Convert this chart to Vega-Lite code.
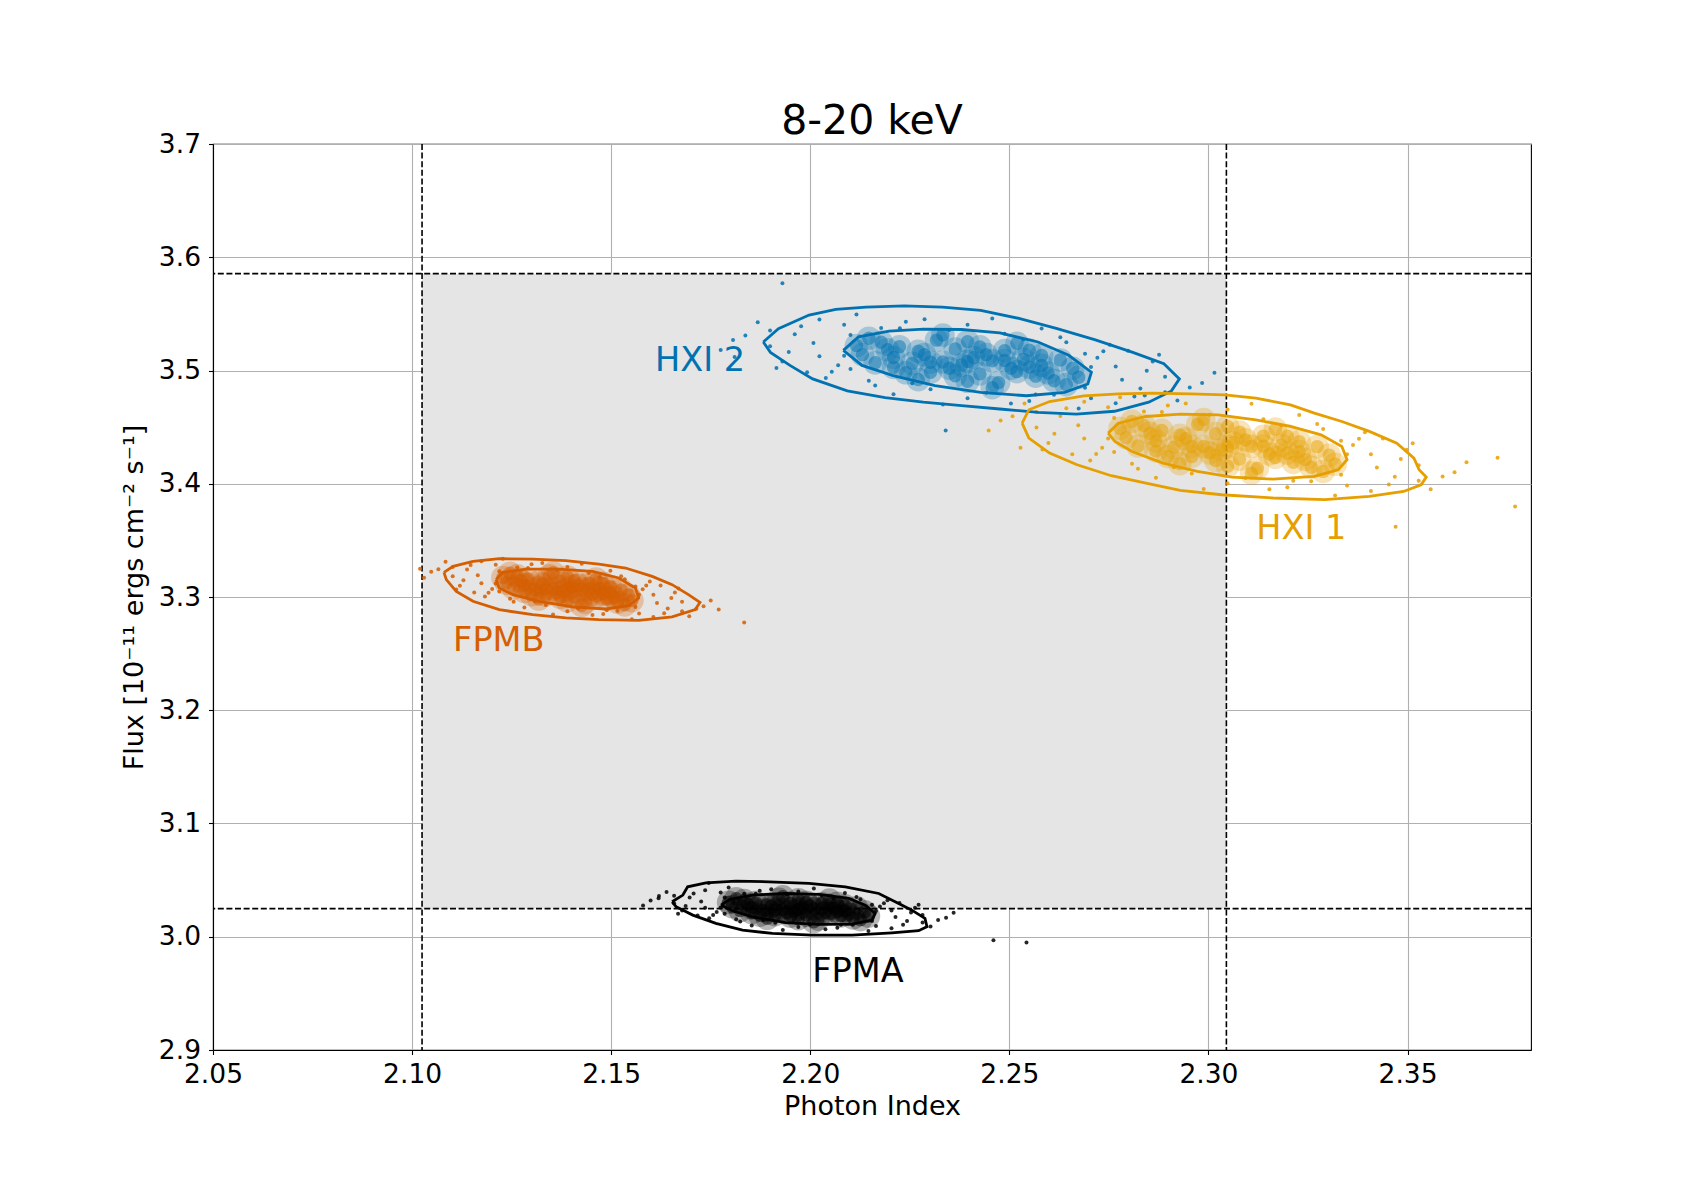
{
  "$schema": "https://vega.github.io/schema/vega-lite/v6.json",
  "description": "Photon index vs flux, 8-20 keV, four instruments with contours and a shaded range.",
  "autosize": "none",
  "padding": {"left": 213, "top": 144, "right": 169, "bottom": 150},
  "width": 1318,
  "height": 906,
  "title": {"text": "8-20 keV", "fontSize": 41, "fontWeight": "normal", "font": "DejaVu Sans", "baseline": "alphabetic", "offset": -44, "frame": "group", "color": "black"},
  "datasets": {
    "box": [{"x1": 2.1025, "x2": 2.3045, "y1": 3.0248, "y2": 3.5855}],
    "vlines": [{"x": 2.1025}, {"x": 2.3045}],
    "hlines": [{"y": 3.0248}, {"y": 3.5855}],
    "labels": [
      {"s": "H2", "label": "HXI 2", "x": 2.161, "y": 3.4995},
      {"s": "H1", "label": "HXI 1", "x": 2.312, "y": 3.351},
      {"s": "B", "label": "FPMB", "x": 2.1103, "y": 3.252},
      {"s": "A", "label": "FPMA", "x": 2.2005, "y": 2.9603}
    ],
    "core": [
      {"s":"H2","x":2.2395,"y":3.508},{"s":"H2","x":2.2457,"y":3.5085},{"s":"H2","x":2.2333,"y":3.5075},{"s":"H2","x":2.2519,"y":3.499},{"s":"H2","x":2.2271,"y":3.517},
      {"s":"H2","x":2.2426,"y":3.497},{"s":"H2","x":2.2364,"y":3.519},{"s":"H2","x":2.2581,"y":3.5045},{"s":"H2","x":2.2209,"y":3.5115},{"s":"H2","x":2.2488,"y":3.5175},
      {"s":"H2","x":2.2302,"y":3.4985},{"s":"H2","x":2.2612,"y":3.491},{"s":"H2","x":2.2178,"y":3.525},{"s":"H2","x":2.255,"y":3.518},{"s":"H2","x":2.224,"y":3.498},
      {"s":"H2","x":2.2659,"y":3.502},{"s":"H2","x":2.2131,"y":3.514},{"s":"H2","x":2.2395,"y":3.5255},{"s":"H2","x":2.2395,"y":3.4905},{"s":"H2","x":2.2473,"y":3.4893},
      {"s":"H2","x":2.2317,"y":3.5268},{"s":"H2","x":2.2566,"y":3.495},{"s":"H2","x":2.2224,"y":3.521},{"s":"H2","x":2.2442,"y":3.514},{"s":"H2","x":2.2349,"y":3.502},
      {"s":"H2","x":2.2535,"y":3.5098},{"s":"H2","x":2.2256,"y":3.5063},{"s":"H2","x":2.2628,"y":3.5093},{"s":"H2","x":2.2163,"y":3.5068},{"s":"H2","x":2.2504,"y":3.502},
      {"s":"H2","x":2.2287,"y":3.514},{"s":"H2","x":2.241,"y":3.5113},{"s":"H2","x":2.238,"y":3.5048},{"s":"H2","x":2.2597,"y":3.4978},{"s":"H2","x":2.2194,"y":3.5183},
      {"s":"H2","x":2.2674,"y":3.494},{"s":"H2","x":2.2116,"y":3.522},{"s":"H2","x":2.2457,"y":3.4848},{"s":"H2","x":2.2333,"y":3.5313},{"s":"H2","x":2.2519,"y":3.524},
      {"s":"H2","x":2.2271,"y":3.492},{"s":"H2","x":2.2488,"y":3.5088},{"s":"H2","x":2.2302,"y":3.5073},{"s":"H2","x":2.2426,"y":3.5208},{"s":"H2","x":2.2364,"y":3.4953},
      {"s":"H2","x":2.2581,"y":3.5133},{"s":"H2","x":2.2209,"y":3.5028},{"s":"H2","x":2.2643,"y":3.4875},{"s":"H2","x":2.2147,"y":3.5285},{"s":"H2","x":2.255,"y":3.503},

      {"s":"H1","x":2.3048,"y":3.433},{"s":"H1","x":2.3108,"y":3.4331},{"s":"H1","x":2.2988,"y":3.4329},{"s":"H1","x":2.3168,"y":3.4232},{"s":"H1","x":2.2928,"y":3.4428},
      {"s":"H1","x":2.3078,"y":3.4218},{"s":"H1","x":2.3018,"y":3.4442},{"s":"H1","x":2.3228,"y":3.4283},{"s":"H1","x":2.2868,"y":3.4377},{"s":"H1","x":2.3138,"y":3.4419},
      {"s":"H1","x":2.2958,"y":3.4241},{"s":"H1","x":2.3258,"y":3.4146},{"s":"H1","x":2.2838,"y":3.4514},{"s":"H1","x":2.3198,"y":3.442},{"s":"H1","x":2.2898,"y":3.424},
      {"s":"H1","x":2.3303,"y":3.4253},{"s":"H1","x":2.2793,"y":3.4407},{"s":"H1","x":2.3048,"y":3.4505},{"s":"H1","x":2.3048,"y":3.4155},{"s":"H1","x":2.3123,"y":3.4138},
      {"s":"H1","x":2.2973,"y":3.4523},{"s":"H1","x":2.3213,"y":3.4189},{"s":"H1","x":2.2883,"y":3.4471},{"s":"H1","x":2.3093,"y":3.4387},{"s":"H1","x":2.3003,"y":3.4273},
      {"s":"H1","x":2.3183,"y":3.4339},{"s":"H1","x":2.2913,"y":3.4322},{"s":"H1","x":2.3273,"y":3.4328},{"s":"H1","x":2.2823,"y":3.4333},{"s":"H1","x":2.3153,"y":3.4263},
      {"s":"H1","x":2.2943,"y":3.4397},{"s":"H1","x":2.3063,"y":3.4362},{"s":"H1","x":2.3033,"y":3.4299},{"s":"H1","x":2.3243,"y":3.4215},{"s":"H1","x":2.2853,"y":3.4446},
      {"s":"H1","x":2.3318,"y":3.4172},{"s":"H1","x":2.2778,"y":3.4488},{"s":"H1","x":2.3108,"y":3.4094},{"s":"H1","x":2.2988,"y":3.4567},{"s":"H1","x":2.3168,"y":3.4482},
      {"s":"H1","x":2.2928,"y":3.4178},{"s":"H1","x":2.3138,"y":3.4332},{"s":"H1","x":2.2958,"y":3.4329},{"s":"H1","x":2.3078,"y":3.4456},{"s":"H1","x":2.3018,"y":3.4205},
      {"s":"H1","x":2.3228,"y":3.4371},{"s":"H1","x":2.2868,"y":3.429},{"s":"H1","x":2.3288,"y":3.4109},{"s":"H1","x":2.2808,"y":3.4551},{"s":"H1","x":2.3198,"y":3.427},

      {"s":"B","x":2.139,"y":3.307},{"s":"B","x":2.1426,"y":3.3069},{"s":"B","x":2.1354,"y":3.3071},{"s":"B","x":2.1462,"y":3.3008},{"s":"B","x":2.1318,"y":3.3132},
      {"s":"B","x":2.1408,"y":3.3002},{"s":"B","x":2.1372,"y":3.3138},{"s":"B","x":2.1498,"y":3.3037},{"s":"B","x":2.1282,"y":3.3103},{"s":"B","x":2.1444,"y":3.3121},
      {"s":"B","x":2.1336,"y":3.3019},{"s":"B","x":2.1516,"y":3.2954},{"s":"B","x":2.1264,"y":3.3186},{"s":"B","x":2.148,"y":3.312},{"s":"B","x":2.13,"y":3.302},
      {"s":"B","x":2.1543,"y":3.3017},{"s":"B","x":2.1237,"y":3.3123},{"s":"B","x":2.139,"y":3.3175},{"s":"B","x":2.139,"y":3.2965},{"s":"B","x":2.1435,"y":3.2953},
      {"s":"B","x":2.1345,"y":3.3188},{"s":"B","x":2.1489,"y":3.2981},{"s":"B","x":2.1291,"y":3.3159},{"s":"B","x":2.1417,"y":3.3103},{"s":"B","x":2.1363,"y":3.3037},
      {"s":"B","x":2.1471,"y":3.3072},{"s":"B","x":2.1309,"y":3.3069},{"s":"B","x":2.1525,"y":3.3063},{"s":"B","x":2.1255,"y":3.3078},{"s":"B","x":2.1453,"y":3.3027},
      {"s":"B","x":2.1327,"y":3.3113},{"s":"B","x":2.1399,"y":3.3089},{"s":"B","x":2.1381,"y":3.3052},{"s":"B","x":2.1507,"y":3.2996},{"s":"B","x":2.1273,"y":3.3145},
      {"s":"B","x":2.1552,"y":3.2968},{"s":"B","x":2.1228,"y":3.3172},{"s":"B","x":2.1426,"y":3.2927},{"s":"B","x":2.1354,"y":3.3214},{"s":"B","x":2.1462,"y":3.3158},
      {"s":"B","x":2.1318,"y":3.2982},{"s":"B","x":2.1444,"y":3.3069},{"s":"B","x":2.1336,"y":3.3072},{"s":"B","x":2.1408,"y":3.3145},{"s":"B","x":2.1372,"y":3.2996},
      {"s":"B","x":2.1498,"y":3.309},{"s":"B","x":2.1282,"y":3.305},{"s":"B","x":2.1534,"y":3.2931},{"s":"B","x":2.1246,"y":3.3209},{"s":"B","x":2.148,"y":3.303},

      {"s":"A","x":2.197,"y":3.0243},{"s":"A","x":2.2009,"y":3.0247},{"s":"A","x":2.1931,"y":3.0239},{"s":"A","x":2.2048,"y":3.0203},{"s":"A","x":2.1892,"y":3.0283},
      {"s":"A","x":2.199,"y":3.0191},{"s":"A","x":2.195,"y":3.0295},{"s":"A","x":2.2087,"y":3.0231},{"s":"A","x":2.1853,"y":3.0255},{"s":"A","x":2.2029,"y":3.0291},
      {"s":"A","x":2.1912,"y":3.0195},{"s":"A","x":2.2107,"y":3.0167},{"s":"A","x":2.1834,"y":3.0319},{"s":"A","x":2.2068,"y":3.0295},{"s":"A","x":2.1873,"y":3.0191},
      {"s":"A","x":2.2136,"y":3.0221},{"s":"A","x":2.1804,"y":3.0265},{"s":"A","x":2.197,"y":3.0327},{"s":"A","x":2.197,"y":3.0159},{"s":"A","x":2.2019,"y":3.0155},
      {"s":"A","x":2.1921,"y":3.0331},{"s":"A","x":2.2077,"y":3.0185},{"s":"A","x":2.1863,"y":3.0301},{"s":"A","x":2.1999,"y":3.0273},{"s":"A","x":2.1941,"y":3.0213},
      {"s":"A","x":2.2058,"y":3.0255},{"s":"A","x":2.1882,"y":3.0231},{"s":"A","x":2.2116,"y":3.0255},{"s":"A","x":2.1824,"y":3.0231},{"s":"A","x":2.2038,"y":3.0217},
      {"s":"A","x":2.1902,"y":3.0269},{"s":"A","x":2.198,"y":3.0259},{"s":"A","x":2.196,"y":3.0227},{"s":"A","x":2.2097,"y":3.0199},{"s":"A","x":2.1843,"y":3.0287},
      {"s":"A","x":2.2146,"y":3.0183},{"s":"A","x":2.1795,"y":3.0303},{"s":"A","x":2.2009,"y":3.0133},{"s":"A","x":2.1931,"y":3.0353},{"s":"A","x":2.2048,"y":3.0323},
      {"s":"A","x":2.1892,"y":3.0163},{"s":"A","x":2.2029,"y":3.0249},{"s":"A","x":2.1912,"y":3.0237},{"s":"A","x":2.199,"y":3.0305},{"s":"A","x":2.195,"y":3.0181},
      {"s":"A","x":2.2087,"y":3.0273},{"s":"A","x":2.1853,"y":3.0213},{"s":"A","x":2.2126,"y":3.0151},{"s":"A","x":2.1814,"y":3.0335},{"s":"A","x":2.2068,"y":3.0223}
    ],
    "halo": [
      {"s":"H2","x":2.2767,"y":3.5035},{"s":"H2","x":2.2023,"y":3.5125},{"s":"H2","x":2.2829,"y":3.484},{"s":"H2","x":2.1961,"y":3.532},{"s":"H2","x":2.2488,"y":3.5325},
      {"s":"H2","x":2.2302,"y":3.4835},{"s":"H2","x":2.2643,"y":3.525},{"s":"H2","x":2.2147,"y":3.491},{"s":"H2","x":2.2705,"y":3.4755},{"s":"H2","x":2.2085,"y":3.5405},
      {"s":"H2","x":2.2891,"y":3.4945},{"s":"H2","x":2.1899,"y":3.5215},{"s":"H2","x":2.2395,"y":3.5405},{"s":"H2","x":2.2395,"y":3.4755},{"s":"H2","x":2.2736,"y":3.517},
      {"s":"H2","x":2.2054,"y":3.499},{"s":"H2","x":2.255,"y":3.473},{"s":"H2","x":2.224,"y":3.543},{"s":"H2","x":2.2953,"y":3.485},{"s":"H2","x":2.1837,"y":3.531},
      {"s":"H2","x":2.2798,"y":3.5175},{"s":"H2","x":2.1992,"y":3.4985},{"s":"H2","x":2.2674,"y":3.4665},{"s":"H2","x":2.2116,"y":3.5495},{"s":"H2","x":2.286,"y":3.508},
      {"s":"H2","x":2.193,"y":3.508},{"s":"H2","x":2.2581,"y":3.537},{"s":"H2","x":2.2209,"y":3.479},{"s":"H2","x":2.2767,"y":3.471},{"s":"H2","x":2.2023,"y":3.545},
      {"s":"H2","x":2.3015,"y":3.498},{"s":"H2","x":2.1775,"y":3.518},{"s":"H2","x":2.2457,"y":3.546},{"s":"H2","x":2.2333,"y":3.47},{"s":"H2","x":2.2922,"y":3.4735},
      {"s":"H2","x":2.1868,"y":3.5425},{"s":"H2","x":2.2705,"y":3.503},{"s":"H2","x":2.2085,"y":3.513},{"s":"H2","x":2.2612,"y":3.4785},{"s":"H2","x":2.2178,"y":3.5375},
      {"s":"H2","x":2.193,"y":3.577},{"s":"H2","x":2.234,"y":3.447},{"s":"H2","x":2.181,"y":3.512},{"s":"H2","x":2.284,"y":3.478},
      {"s":"H2","x":2.2721,"y":3.5113},{"s":"H2","x":2.207,"y":3.5047},{"s":"H2","x":2.2783,"y":3.4918},{"s":"H2","x":2.2008,"y":3.5243},{"s":"H2","x":2.2535,"y":3.5273},
      {"s":"H2","x":2.2256,"y":3.4888},{"s":"H2","x":2.269,"y":3.4848},{"s":"H2","x":2.2101,"y":3.5313},{"s":"H2","x":2.2845,"y":3.4998},{"s":"H2","x":2.1946,"y":3.5163},
      {"s":"H2","x":2.2442,"y":3.4803},{"s":"H2","x":2.2349,"y":3.5358},{"s":"H2","x":2.2628,"y":3.5293},{"s":"H2","x":2.2163,"y":3.4868},{"s":"H2","x":2.2814,"y":3.477},
      {"s":"H2","x":2.1977,"y":3.539},{"s":"H2","x":2.2891,"y":3.4808},{"s":"H2","x":2.1899,"y":3.5353},{"s":"H2","x":2.2504,"y":3.4708},{"s":"H2","x":2.2287,"y":3.5453},
      {"s":"H2","x":2.2752,"y":3.5228},{"s":"H2","x":2.2039,"y":3.4933},{"s":"H2","x":2.2984,"y":3.489},{"s":"H2","x":2.1806,"y":3.527},{"s":"H2","x":2.2566,"y":3.4788},
      {"s":"H2","x":2.2225,"y":3.5373},{"s":"H2","x":2.2876,"y":3.5138},{"s":"H2","x":2.1915,"y":3.5023},{"s":"H2","x":2.269,"y":3.5148},{"s":"H2","x":2.2101,"y":3.5013},

      {"s":"H1","x":2.3408,"y":3.4261},{"s":"H1","x":2.2688,"y":3.4399},{"s":"H1","x":2.3468,"y":3.4062},{"s":"H1","x":2.2628,"y":3.4598},{"s":"H1","x":2.3138,"y":3.4569},
      {"s":"H1","x":2.2958,"y":3.4091},{"s":"H1","x":2.3288,"y":3.4484},{"s":"H1","x":2.2808,"y":3.4176},{"s":"H1","x":2.3348,"y":3.3985},{"s":"H1","x":2.2748,"y":3.4675},
      {"s":"H1","x":2.3528,"y":3.4163},{"s":"H1","x":2.2568,"y":3.4497},{"s":"H1","x":2.3048,"y":3.4655},{"s":"H1","x":2.3048,"y":3.4005},{"s":"H1","x":2.3378,"y":3.4398},
      {"s":"H1","x":2.2718,"y":3.4262},{"s":"H1","x":2.3198,"y":3.397},{"s":"H1","x":2.2898,"y":3.469},{"s":"H1","x":2.3588,"y":3.4064},{"s":"H1","x":2.2508,"y":3.4596},
      {"s":"H1","x":2.3438,"y":3.4399},{"s":"H1","x":2.2658,"y":3.4261},{"s":"H1","x":2.3318,"y":3.3897},{"s":"H1","x":2.2778,"y":3.4763},{"s":"H1","x":2.3498,"y":3.43},
      {"s":"H1","x":2.2598,"y":3.436},{"s":"H1","x":2.3228,"y":3.4608},{"s":"H1","x":2.2868,"y":3.4052},{"s":"H1","x":2.3408,"y":3.3936},{"s":"H1","x":2.2688,"y":3.4724},
      {"s":"H1","x":2.3648,"y":3.419},{"s":"H1","x":2.2448,"y":3.447},{"s":"H1","x":2.3108,"y":3.4706},{"s":"H1","x":2.2988,"y":3.3954},{"s":"H1","x":2.3558,"y":3.3951},
      {"s":"H1","x":2.2538,"y":3.4709},{"s":"H1","x":2.3348,"y":3.426},{"s":"H1","x":2.2748,"y":3.44},{"s":"H1","x":2.3258,"y":3.4021},{"s":"H1","x":2.2838,"y":3.4639},
      {"s":"H1","x":2.377,"y":3.38},{"s":"H1","x":2.3726,"y":3.423},{"s":"H1","x":2.347,"y":3.362},{"s":"H1","x":2.2528,"y":3.4317},
      {"s":"H1","x":2.3363,"y":3.4342},{"s":"H1","x":2.2733,"y":3.4318},{"s":"H1","x":2.3423,"y":3.4143},{"s":"H1","x":2.2673,"y":3.4517},{"s":"H1","x":2.3183,"y":3.4514},
      {"s":"H1","x":2.2913,"y":3.4146},{"s":"H1","x":2.3333,"y":3.4079},{"s":"H1","x":2.2763,"y":3.4581},{"s":"H1","x":2.3483,"y":3.4219},{"s":"H1","x":2.2613,"y":3.4441},
      {"s":"H1","x":2.3093,"y":3.405},{"s":"H1","x":2.3003,"y":3.461},{"s":"H1","x":2.3273,"y":3.4528},{"s":"H1","x":2.2823,"y":3.4132},{"s":"H1","x":2.3453,"y":3.3993},
      {"s":"H1","x":2.2643,"y":3.4667},{"s":"H1","x":2.3528,"y":3.4026},{"s":"H1","x":2.2568,"y":3.4634},{"s":"H1","x":2.3153,"y":3.3951},{"s":"H1","x":2.2943,"y":3.4709},
      {"s":"H1","x":2.3393,"y":3.4455},{"s":"H1","x":2.2703,"y":3.4205},{"s":"H1","x":2.3618,"y":3.4102},{"s":"H1","x":2.2478,"y":3.4558},{"s":"H1","x":2.3213,"y":3.4027},
      {"s":"H1","x":2.2883,"y":3.4633},{"s":"H1","x":2.3513,"y":3.4357},{"s":"H1","x":2.2583,"y":3.4303},{"s":"H1","x":2.3333,"y":3.4379},{"s":"H1","x":2.2763,"y":3.4281},

      {"s":"B","x":2.1606,"y":3.3019},{"s":"B","x":2.1174,"y":3.3121},{"s":"B","x":2.1642,"y":3.2898},{"s":"B","x":2.1138,"y":3.3242},{"s":"B","x":2.1444,"y":3.3211},
      {"s":"B","x":2.1336,"y":3.2929},{"s":"B","x":2.1534,"y":3.3156},{"s":"B","x":2.1246,"y":3.2984},{"s":"B","x":2.157,"y":3.2855},{"s":"B","x":2.121,"y":3.3285},
      {"s":"B","x":2.1678,"y":3.2957},{"s":"B","x":2.1102,"y":3.3183},{"s":"B","x":2.139,"y":3.3265},{"s":"B","x":2.139,"y":3.2875},{"s":"B","x":2.1588,"y":3.3102},
      {"s":"B","x":2.1192,"y":3.3038},{"s":"B","x":2.148,"y":3.285},{"s":"B","x":2.13,"y":3.329},{"s":"B","x":2.1714,"y":3.2896},{"s":"B","x":2.1066,"y":3.3244},
      {"s":"B","x":2.1624,"y":3.3101},{"s":"B","x":2.1156,"y":3.3039},{"s":"B","x":2.1552,"y":3.2803},{"s":"B","x":2.1228,"y":3.3337},{"s":"B","x":2.166,"y":3.304},
      {"s":"B","x":2.112,"y":3.31},{"s":"B","x":2.1498,"y":3.3232},{"s":"B","x":2.1282,"y":3.2908},{"s":"B","x":2.1606,"y":3.2824},{"s":"B","x":2.1174,"y":3.3316},
      {"s":"B","x":2.175,"y":3.297},{"s":"B","x":2.103,"y":3.317},{"s":"B","x":2.1426,"y":3.3294},{"s":"B","x":2.1354,"y":3.2846},{"s":"B","x":2.1696,"y":3.2829},
      {"s":"B","x":2.1084,"y":3.3311},{"s":"B","x":2.157,"y":3.302},{"s":"B","x":2.121,"y":3.312},{"s":"B","x":2.1516,"y":3.2879},{"s":"B","x":2.1264,"y":3.3261},
      {"s":"B","x":2.1834,"y":3.2775},{"s":"B","x":2.102,"y":3.325},{"s":"B","x":2.177,"y":3.289},
      {"s":"B","x":2.1579,"y":3.3069},{"s":"B","x":2.1201,"y":3.3071},{"s":"B","x":2.1615,"y":3.2948},{"s":"B","x":2.1165,"y":3.3192},{"s":"B","x":2.1471,"y":3.3177},
      {"s":"B","x":2.1309,"y":3.2963},{"s":"B","x":2.1561,"y":3.2912},{"s":"B","x":2.1219,"y":3.3228},{"s":"B","x":2.1651,"y":3.2992},{"s":"B","x":2.1129,"y":3.3148},
      {"s":"B","x":2.1417,"y":3.2901},{"s":"B","x":2.1363,"y":3.3239},{"s":"B","x":2.1525,"y":3.3183},{"s":"B","x":2.1255,"y":3.2957},{"s":"B","x":2.1633,"y":3.2857},
      {"s":"B","x":2.1147,"y":3.3283},{"s":"B","x":2.1678,"y":3.2875},{"s":"B","x":2.1102,"y":3.3265},{"s":"B","x":2.1453,"y":3.284},{"s":"B","x":2.1327,"y":3.33},
      {"s":"B","x":2.1597,"y":3.3136},{"s":"B","x":2.1183,"y":3.3004},{"s":"B","x":2.1732,"y":3.2918},{"s":"B","x":2.1048,"y":3.3222},{"s":"B","x":2.1489,"y":3.2884},
      {"s":"B","x":2.1291,"y":3.3256},{"s":"B","x":2.1669,"y":3.3074},{"s":"B","x":2.1111,"y":3.3066},{"s":"B","x":2.1561,"y":3.3092},{"s":"B","x":2.1219,"y":3.3048},

      {"s":"A","x":2.2204,"y":3.0231},{"s":"A","x":2.1736,"y":3.0255},{"s":"A","x":2.2243,"y":3.0139},{"s":"A","x":2.1697,"y":3.0347},{"s":"A","x":2.2029,"y":3.0363},
      {"s":"A","x":2.1912,"y":3.0123},{"s":"A","x":2.2126,"y":3.0331},{"s":"A","x":2.1814,"y":3.0155},{"s":"A","x":2.2165,"y":3.0095},{"s":"A","x":2.1775,"y":3.0391},
      {"s":"A","x":2.2282,"y":3.0191},{"s":"A","x":2.1658,"y":3.0295},{"s":"A","x":2.197,"y":3.0399},{"s":"A","x":2.197,"y":3.0087},{"s":"A","x":2.2185,"y":3.0295},
      {"s":"A","x":2.1756,"y":3.0191},{"s":"A","x":2.2068,"y":3.0079},{"s":"A","x":2.1873,"y":3.0407},{"s":"A","x":2.2321,"y":3.0147},{"s":"A","x":2.1619,"y":3.0339},
      {"s":"A","x":2.2224,"y":3.0299},{"s":"A","x":2.1717,"y":3.0187},{"s":"A","x":2.2146,"y":3.0051},{"s":"A","x":2.1795,"y":3.0435},{"s":"A","x":2.2263,"y":3.0255},
      {"s":"A","x":2.1678,"y":3.0231},{"s":"A","x":2.2087,"y":3.0387},{"s":"A","x":2.1853,"y":3.0099},{"s":"A","x":2.2204,"y":3.0075},{"s":"A","x":2.1736,"y":3.0411},
      {"s":"A","x":2.236,"y":3.0211},{"s":"A","x":2.158,"y":3.0275},{"s":"A","x":2.2009,"y":3.0427},{"s":"A","x":2.1931,"y":3.0059},{"s":"A","x":2.2302,"y":3.0091},
      {"s":"A","x":2.1639,"y":3.0395},{"s":"A","x":2.2165,"y":3.0227},{"s":"A","x":2.1775,"y":3.0259},{"s":"A","x":2.2107,"y":3.0107},{"s":"A","x":2.1834,"y":3.0379},
      {"s":"A","x":2.2543,"y":2.995},{"s":"A","x":2.246,"y":2.997},{"s":"A","x":2.162,"y":3.036},{"s":"A","x":2.1745,"y":3.0475},
      {"s":"A","x":2.2175,"y":3.0267},{"s":"A","x":2.1765,"y":3.0219},{"s":"A","x":2.2214,"y":3.0175},{"s":"A","x":2.1726,"y":3.0311},{"s":"A","x":2.2058,"y":3.0339},
      {"s":"A","x":2.1882,"y":3.0147},{"s":"A","x":2.2155,"y":3.0139},{"s":"A","x":2.1785,"y":3.0347},{"s":"A","x":2.2253,"y":3.0215},{"s":"A","x":2.1687,"y":3.0271},
      {"s":"A","x":2.1999,"y":3.0111},{"s":"A","x":2.1941,"y":3.0375},{"s":"A","x":2.2116,"y":3.0351},{"s":"A","x":2.1824,"y":3.0135},{"s":"A","x":2.2233,"y":3.0105},
      {"s":"A","x":2.1707,"y":3.0381},{"s":"A","x":2.2282,"y":3.0125},{"s":"A","x":2.1658,"y":3.0361},{"s":"A","x":2.2038,"y":3.0067},{"s":"A","x":2.1902,"y":3.0419},
      {"s":"A","x":2.2194,"y":3.0323},{"s":"A","x":2.1746,"y":3.0163},{"s":"A","x":2.2341,"y":3.0167},{"s":"A","x":2.1599,"y":3.0319},{"s":"A","x":2.2077,"y":3.0107},
      {"s":"A","x":2.1863,"y":3.0379},{"s":"A","x":2.2272,"y":3.0283},{"s":"A","x":2.1668,"y":3.0203},{"s":"A","x":2.2155,"y":3.0283},{"s":"A","x":2.1785,"y":3.0203}
    ],
    "contours": [
      {"s":"H2","l":"o","i":0,"x":2.1882,"y":3.5252},{"s":"H2","l":"o","i":1,"x":2.192,"y":3.537},{"s":"H2","l":"o","i":2,"x":2.1997,"y":3.549},{"s":"H2","l":"o","i":3,"x":2.2064,"y":3.554},
      {"s":"H2","l":"o","i":4,"x":2.214,"y":3.556},{"s":"H2","l":"o","i":5,"x":2.2236,"y":3.557},{"s":"H2","l":"o","i":6,"x":2.2332,"y":3.556},{"s":"H2","l":"o","i":7,"x":2.2428,"y":3.553},
      {"s":"H2","l":"o","i":8,"x":2.2524,"y":3.546},{"s":"H2","l":"o","i":9,"x":2.262,"y":3.537},{"s":"H2","l":"o","i":10,"x":2.2716,"y":3.527},{"s":"H2","l":"o","i":11,"x":2.281,"y":3.516},
      {"s":"H2","l":"o","i":12,"x":2.2888,"y":3.506},{"s":"H2","l":"o","i":13,"x":2.2927,"y":3.4926},{"s":"H2","l":"o","i":14,"x":2.2907,"y":3.482},{"s":"H2","l":"o","i":15,"x":2.285,"y":3.472},
      {"s":"H2","l":"o","i":16,"x":2.2764,"y":3.464},{"s":"H2","l":"o","i":17,"x":2.2668,"y":3.4614},{"s":"H2","l":"o","i":18,"x":2.2572,"y":3.463},{"s":"H2","l":"o","i":19,"x":2.2476,"y":3.466},
      {"s":"H2","l":"o","i":20,"x":2.238,"y":3.469},{"s":"H2","l":"o","i":21,"x":2.2284,"y":3.472},{"s":"H2","l":"o","i":22,"x":2.2188,"y":3.476},{"s":"H2","l":"o","i":23,"x":2.2093,"y":3.482},
      {"s":"H2","l":"o","i":24,"x":2.2006,"y":3.4926},{"s":"H2","l":"o","i":25,"x":2.1949,"y":3.5045},{"s":"H2","l":"o","i":26,"x":2.19,"y":3.516},{"s":"H2","l":"o","i":27,"x":2.1882,"y":3.5252},

      {"s":"H2","l":"i","i":0,"x":2.2083,"y":3.5178},{"s":"H2","l":"i","i":1,"x":2.2121,"y":3.5297},{"s":"H2","l":"i","i":2,"x":2.2198,"y":3.5347},{"s":"H2","l":"i","i":3,"x":2.2284,"y":3.5365},
      {"s":"H2","l":"i","i":4,"x":2.238,"y":3.5362},{"s":"H2","l":"i","i":5,"x":2.2476,"y":3.5332},{"s":"H2","l":"i","i":6,"x":2.2572,"y":3.5252},{"s":"H2","l":"i","i":7,"x":2.2649,"y":3.5134},
      {"s":"H2","l":"i","i":8,"x":2.2706,"y":3.4985},{"s":"H2","l":"i","i":9,"x":2.2697,"y":3.4881},{"s":"H2","l":"i","i":10,"x":2.2639,"y":3.4807},{"s":"H2","l":"i","i":11,"x":2.2543,"y":3.4777},
      {"s":"H2","l":"i","i":12,"x":2.2428,"y":3.4807},{"s":"H2","l":"i","i":13,"x":2.2313,"y":3.4866},{"s":"H2","l":"i","i":14,"x":2.2208,"y":3.4955},{"s":"H2","l":"i","i":15,"x":2.213,"y":3.5045},
      {"s":"H2","l":"i","i":16,"x":2.2083,"y":3.5178},

      {"s":"H1","l":"o","i":0,"x":2.2532,"y":3.4535},{"s":"H1","l":"o","i":1,"x":2.2549,"y":3.4653},{"s":"H1","l":"o","i":2,"x":2.2601,"y":3.4726},{"s":"H1","l":"o","i":3,"x":2.2687,"y":3.4776},
      {"s":"H1","l":"o","i":4,"x":2.2774,"y":3.4794},{"s":"H1","l":"o","i":5,"x":2.286,"y":3.48},{"s":"H1","l":"o","i":6,"x":2.2955,"y":3.4794},{"s":"H1","l":"o","i":7,"x":2.3041,"y":3.4785},
      {"s":"H1","l":"o","i":8,"x":2.3119,"y":3.4756},{"s":"H1","l":"o","i":9,"x":2.3206,"y":3.4697},{"s":"H1","l":"o","i":10,"x":2.3266,"y":3.4624},{"s":"H1","l":"o","i":11,"x":2.3335,"y":3.455},
      {"s":"H1","l":"o","i":12,"x":2.3404,"y":3.4462},{"s":"H1","l":"o","i":13,"x":2.3473,"y":3.4359},{"s":"H1","l":"o","i":14,"x":2.3516,"y":3.4226},{"s":"H1","l":"o","i":15,"x":2.3529,"y":3.4124},
      {"s":"H1","l":"o","i":16,"x":2.3547,"y":3.4059},{"s":"H1","l":"o","i":17,"x":2.3534,"y":3.3991},{"s":"H1","l":"o","i":18,"x":2.349,"y":3.3932},{"s":"H1","l":"o","i":19,"x":2.3404,"y":3.3888},
      {"s":"H1","l":"o","i":20,"x":2.3292,"y":3.3859},{"s":"H1","l":"o","i":21,"x":2.3162,"y":3.3874},{"s":"H1","l":"o","i":22,"x":2.3033,"y":3.3903},{"s":"H1","l":"o","i":23,"x":2.2929,"y":3.3941},
      {"s":"H1","l":"o","i":24,"x":2.2843,"y":3.4006},{"s":"H1","l":"o","i":25,"x":2.2756,"y":3.4071},{"s":"H1","l":"o","i":26,"x":2.267,"y":3.4168},{"s":"H1","l":"o","i":27,"x":2.2601,"y":3.4271},
      {"s":"H1","l":"o","i":28,"x":2.2549,"y":3.4403},{"s":"H1","l":"o","i":29,"x":2.2532,"y":3.4535},

      {"s":"H1","l":"i","i":0,"x":2.2748,"y":3.4447},{"s":"H1","l":"i","i":1,"x":2.2774,"y":3.4535},{"s":"H1","l":"i","i":2,"x":2.2843,"y":3.4594},{"s":"H1","l":"i","i":3,"x":2.2929,"y":3.4615},
      {"s":"H1","l":"i","i":4,"x":2.3024,"y":3.4609},{"s":"H1","l":"i","i":5,"x":2.3119,"y":3.4565},{"s":"H1","l":"i","i":6,"x":2.3206,"y":3.4506},{"s":"H1","l":"i","i":7,"x":2.3283,"y":3.4432},
      {"s":"H1","l":"i","i":8,"x":2.3335,"y":3.4329},{"s":"H1","l":"i","i":9,"x":2.3348,"y":3.4212},{"s":"H1","l":"i","i":10,"x":2.3326,"y":3.4124},{"s":"H1","l":"i","i":11,"x":2.3266,"y":3.4065},
      {"s":"H1","l":"i","i":12,"x":2.3162,"y":3.4041},{"s":"H1","l":"i","i":13,"x":2.3059,"y":3.4059},{"s":"H1","l":"i","i":14,"x":2.2972,"y":3.4109},{"s":"H1","l":"i","i":15,"x":2.2886,"y":3.4182},
      {"s":"H1","l":"i","i":16,"x":2.2808,"y":3.4285},{"s":"H1","l":"i","i":17,"x":2.2765,"y":3.4374},{"s":"H1","l":"i","i":18,"x":2.2748,"y":3.4447},

      {"s":"B","l":"o","i":0,"x":2.108,"y":3.3218},{"s":"B","l":"o","i":1,"x":2.1103,"y":3.3271},{"s":"B","l":"o","i":2,"x":2.1153,"y":3.3315},{"s":"B","l":"o","i":3,"x":2.1219,"y":3.3338},
      {"s":"B","l":"o","i":4,"x":2.1303,"y":3.3335},{"s":"B","l":"o","i":5,"x":2.1386,"y":3.3321},{"s":"B","l":"o","i":6,"x":2.1469,"y":3.3291},{"s":"B","l":"o","i":7,"x":2.1536,"y":3.3256},
      {"s":"B","l":"o","i":8,"x":2.1603,"y":3.3182},{"s":"B","l":"o","i":9,"x":2.1653,"y":3.3109},{"s":"B","l":"o","i":10,"x":2.1694,"y":3.3021},{"s":"B","l":"o","i":11,"x":2.1723,"y":3.2953},
      {"s":"B","l":"o","i":12,"x":2.1711,"y":3.2888},{"s":"B","l":"o","i":13,"x":2.1653,"y":3.2824},{"s":"B","l":"o","i":14,"x":2.1569,"y":3.2794},{"s":"B","l":"o","i":15,"x":2.1469,"y":3.28},
      {"s":"B","l":"o","i":16,"x":2.1386,"y":3.2815},{"s":"B","l":"o","i":17,"x":2.1303,"y":3.2844},{"s":"B","l":"o","i":18,"x":2.1219,"y":3.2888},{"s":"B","l":"o","i":19,"x":2.1153,"y":3.2962},
      {"s":"B","l":"o","i":20,"x":2.1111,"y":3.305},{"s":"B","l":"o","i":21,"x":2.1086,"y":3.3153},{"s":"B","l":"o","i":22,"x":2.108,"y":3.3218},

      {"s":"B","l":"i","i":0,"x":2.1211,"y":3.3153},{"s":"B","l":"i","i":1,"x":2.1228,"y":3.3218},{"s":"B","l":"i","i":2,"x":2.1286,"y":3.3247},{"s":"B","l":"i","i":3,"x":2.1369,"y":3.3247},
      {"s":"B","l":"i","i":4,"x":2.1453,"y":3.3226},{"s":"B","l":"i","i":5,"x":2.1519,"y":3.3168},{"s":"B","l":"i","i":6,"x":2.1561,"y":3.3079},{"s":"B","l":"i","i":7,"x":2.1569,"y":3.2991},
      {"s":"B","l":"i","i":8,"x":2.1544,"y":3.2924},{"s":"B","l":"i","i":9,"x":2.1486,"y":3.2894},{"s":"B","l":"i","i":10,"x":2.1403,"y":3.2912},{"s":"B","l":"i","i":11,"x":2.1319,"y":3.2962},
      {"s":"B","l":"i","i":12,"x":2.1253,"y":3.3021},{"s":"B","l":"i","i":13,"x":2.1219,"y":3.3079},{"s":"B","l":"i","i":14,"x":2.1211,"y":3.3153},

      {"s":"A","l":"o","i":0,"x":2.1653,"y":3.0309},{"s":"A","l":"o","i":1,"x":2.168,"y":3.0368},{"s":"A","l":"o","i":2,"x":2.1692,"y":3.0441},{"s":"A","l":"o","i":3,"x":2.1738,"y":3.0476},
      {"s":"A","l":"o","i":4,"x":2.1813,"y":3.0491},{"s":"A","l":"o","i":5,"x":2.1897,"y":3.0485},{"s":"A","l":"o","i":6,"x":2.1997,"y":3.0471},{"s":"A","l":"o","i":7,"x":2.2088,"y":3.0441},
      {"s":"A","l":"o","i":8,"x":2.2172,"y":3.0382},{"s":"A","l":"o","i":9,"x":2.2222,"y":3.0294},{"s":"A","l":"o","i":10,"x":2.2255,"y":3.0235},{"s":"A","l":"o","i":11,"x":2.2288,"y":3.0162},
      {"s":"A","l":"o","i":12,"x":2.2293,"y":3.0088},{"s":"A","l":"o","i":13,"x":2.2272,"y":3.0053},{"s":"A","l":"o","i":14,"x":2.2205,"y":3.0035},{"s":"A","l":"o","i":15,"x":2.2105,"y":3.0015},
      {"s":"A","l":"o","i":16,"x":2.2005,"y":3.0015},{"s":"A","l":"o","i":17,"x":2.1905,"y":3.0029},{"s":"A","l":"o","i":18,"x":2.183,"y":3.0059},{"s":"A","l":"o","i":19,"x":2.1763,"y":3.0118},
      {"s":"A","l":"o","i":20,"x":2.1705,"y":3.0191},{"s":"A","l":"o","i":21,"x":2.1663,"y":3.0265},{"s":"A","l":"o","i":22,"x":2.1653,"y":3.0309},

      {"s":"A","l":"i","i":0,"x":2.1776,"y":3.0279},{"s":"A","l":"i","i":1,"x":2.1797,"y":3.0329},{"s":"A","l":"i","i":2,"x":2.1855,"y":3.0368},{"s":"A","l":"i","i":3,"x":2.1938,"y":3.0382},
      {"s":"A","l":"i","i":4,"x":2.2022,"y":3.0374},{"s":"A","l":"i","i":5,"x":2.2097,"y":3.0338},{"s":"A","l":"i","i":6,"x":2.2138,"y":3.0279},{"s":"A","l":"i","i":7,"x":2.2163,"y":3.0206},
      {"s":"A","l":"i","i":8,"x":2.2155,"y":3.0147},{"s":"A","l":"i","i":9,"x":2.2105,"y":3.0112},{"s":"A","l":"i","i":10,"x":2.2022,"y":3.0109},{"s":"A","l":"i","i":11,"x":2.1938,"y":3.0124},
      {"s":"A","l":"i","i":12,"x":2.1855,"y":3.0176},{"s":"A","l":"i","i":13,"x":2.1805,"y":3.0229},{"s":"A","l":"i","i":14,"x":2.1776,"y":3.0279}
    ]
  },
  "encoding": {
    "x": {
      "field": "x", "type": "quantitative",
      "scale": {"domain": [2.05, 2.381], "nice": false, "zero": false},
      "axis": {
        "title": "Photon Index", "values": [2.05, 2.1, 2.15, 2.2, 2.25, 2.3, 2.35], "format": ".2f",
        "labelFlush": false, "labelOverlap": false, "labelPadding": 7, "titlePadding": 5
      }
    },
    "y": {
      "field": "y", "type": "quantitative",
      "scale": {"domain": [2.9, 3.7], "nice": false, "zero": false},
      "axis": {
        "title": "Flux [10⁻¹¹ ergs cm⁻² s⁻¹]", "values": [2.9, 3.0, 3.1, 3.2, 3.3, 3.4, 3.5, 3.6, 3.7], "format": ".1f",
        "labelFlush": false, "labelOverlap": false, "labelPadding": 8, "titlePadding": 10
      }
    }
  },
  "layer": [
    {
      "data": {"name": "box"},
      "mark": {"type": "rect", "color": "#e5e5e5"},
      "encoding": {
        "x": {"field": "x1", "type": "quantitative"},
        "x2": {"field": "x2"},
        "y": {"field": "y1", "type": "quantitative"},
        "y2": {"field": "y2"}
      }
    },
    {
      "data": {"name": "vlines"},
      "mark": {"type": "rule", "color": "black", "strokeWidth": 1.6, "strokeDash": [6, 2.6]},
      "encoding": {"x": {"field": "x", "type": "quantitative"}, "y": null}
    },
    {
      "data": {"name": "hlines"},
      "mark": {"type": "rule", "color": "black", "strokeWidth": 1.6, "strokeDash": [6, 2.6]},
      "encoding": {"y": {"field": "y", "type": "quantitative"}, "x": null}
    },
    {
      "data": {"name": "halo"},
      "mark": {"type": "circle", "size": 16, "opacity": 0.85},
      "encoding": {
        "color": {"field": "s", "type": "nominal", "scale": {"domain": ["H2", "H1", "B", "A"], "range": ["#0072B2", "#E69F00", "#D55E00", "#000000"]}, "legend": null}
      }
    },
    {
      "data": {"name": "core"},
      "mark": {"type": "circle", "size": 560, "opacity": 0.28},
      "encoding": {
        "color": {"field": "s", "type": "nominal", "legend": null}
      }
    },
    {
      "data": {"name": "core"},
      "mark": {"type": "circle", "size": 180, "opacity": 0.5},
      "encoding": {
        "color": {"field": "s", "type": "nominal", "legend": null}
      }
    },
    {
      "data": {"name": "contours"},
      "mark": {"type": "line", "strokeWidth": 2.8},
      "encoding": {
        "color": {"field": "s", "type": "nominal", "legend": null},
        "detail": {"field": "l", "type": "nominal"},
        "order": {"field": "i", "type": "quantitative"}
      }
    },
    {
      "data": {"name": "labels"},
      "mark": {"type": "text", "align": "left", "baseline": "alphabetic", "fontSize": 33.5, "font": "DejaVu Sans"},
      "encoding": {
        "text": {"field": "label"},
        "color": {"field": "s", "type": "nominal", "legend": null}
      }
    }
  ],
  "config": {
    "font": "DejaVu Sans",
    "view": {"stroke": "black", "strokeWidth": 1.1},
    "axis": {
      "grid": true, "gridColor": "#b0b0b0", "gridWidth": 1.1, "zindex": 1,
      "domainColor": "black", "domainWidth": 1.1,
      "tickColor": "black", "tickWidth": 1.1, "tickSize": 4.5,
      "labelFontSize": 26.5, "labelColor": "black", "labelFont": "DejaVu Sans",
      "titleFontSize": 27, "titleFontWeight": "normal", "titleColor": "black", "titleFont": "DejaVu Sans"
    }
  }
}
